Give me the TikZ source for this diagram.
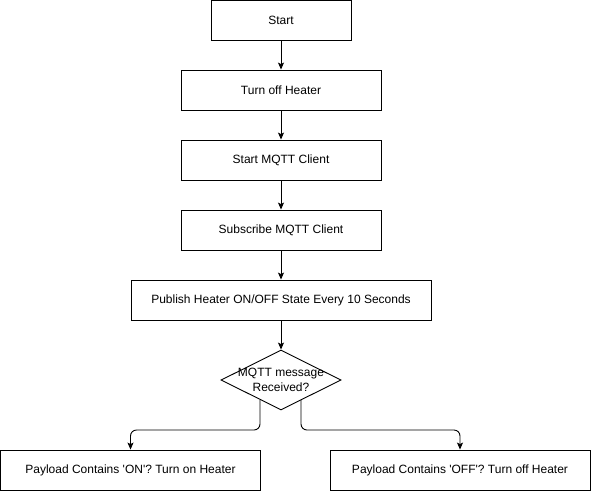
\documentclass[tikz,border=0pt]{standalone}
\usepackage{fontspec}
\setmainfont{Liberation Sans}
\usetikzlibrary{shapes.geometric,arrows.meta,calc}
\begin{document}
\begin{tikzpicture}[x=1pt,y=-1pt,
  every node/.style={font=\fontsize{12}{14.5}\selectfont},
  boxnode/.style={draw,line width=0.9pt,minimum height=40pt,inner sep=0pt,anchor=center},
  arr/.style={line width=0.9pt,-{Stealth[length=7pt,width=6pt,inset=1.5pt]}},
]
\useasboundingbox (0,0) rectangle (591,491);
\node[boxnode,minimum width=140pt] (start) at (281,20) {Start};
\node[boxnode,minimum width=200pt] (off) at (281,90) {Turn off Heater};
\node[boxnode,minimum width=200pt] (mqtt) at (281,160) {Start MQTT Client};
\node[boxnode,minimum width=200pt] (sub) at (281,230) {Subscribe MQTT Client};
\node[boxnode,minimum width=300pt] (pub) at (281,300) {Publish Heater ON/OFF State Every 10 Seconds};
\node[draw,line width=0.9pt,shape=diamond,minimum width=120pt,minimum height=60pt,inner sep=0pt,aspect=2,align=center] (dec) at (281,380) {};
\node[align=center] (dectext) at (281,380) {MQTT message\\Received?};
\node[boxnode,minimum width=260pt] (on) at (130.5,470) {Payload Contains \textquotesingle ON\textquotesingle ? Turn on Heater};
\node[boxnode,minimum width=260pt] (offp) at (460,470) {Payload Contains \textquotesingle OFF\textquotesingle ? Turn off Heater};
\draw[arr] (start) -- (off);
\draw[arr] (off) -- (mqtt);
\draw[arr] (mqtt) -- (sub);
\draw[arr] (sub) -- (pub);
\draw[arr] (pub) -- (dec);
\coordinate (dl) at (260,400);
\coordinate (dr) at (301,400);
\draw[arr,rounded corners=6pt] (dl) |- (on.north |- 0,430) -- (on.north);
\draw[arr,rounded corners=6pt] (dr) |- (offp.north |- 0,430) -- (offp.north);
\end{tikzpicture}
\end{document}
